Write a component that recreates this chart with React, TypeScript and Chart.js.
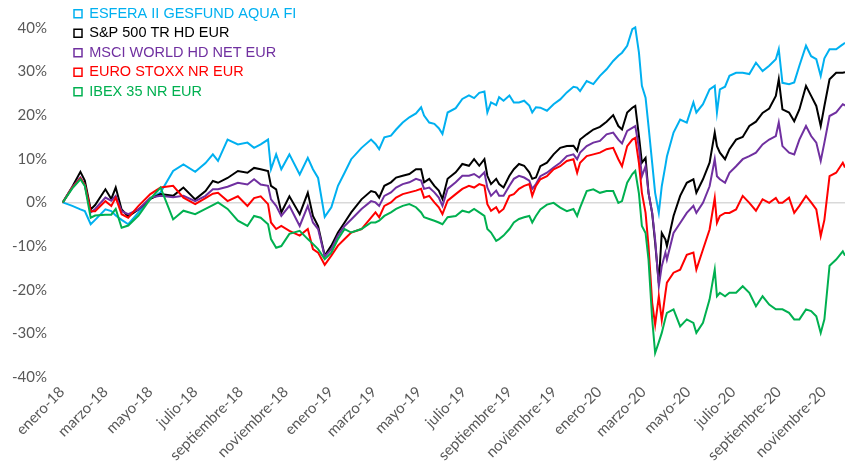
import { useEffect, useRef } from 'react';
import { Chart, registerables } from 'chart.js';

Chart.register(...registerables);

// ---- Data (percent return since start) ----
const dates = [
  // 2018 H1
  '2018-01-02', '2018-01-15', '2018-01-26', '2018-02-01', '2018-02-09', '2018-02-15',
  '2018-03-01', '2018-03-09', '2018-03-15', '2018-03-23', '2018-04-01', '2018-04-15',
  '2018-05-01', '2018-05-15', '2018-06-01', '2018-06-15', '2018-07-01', '2018-07-15',
  '2018-07-25',
  // 2018 H2 - early 2019
  '2018-08-01', '2018-08-14', '2018-08-28', '2018-09-10', '2018-09-19', '2018-09-28',
  '2018-10-08', '2018-10-12', '2018-10-19', '2018-10-26', '2018-11-06', '2018-11-20',
  '2018-12-01', '2018-12-08', '2018-12-15', '2018-12-24', '2019-01-02', '2019-01-11',
  '2019-01-20', '2019-01-29', '2019-02-12', '2019-02-25',
  // 2019 Mar - Oct
  '2019-03-03', '2019-03-08', '2019-03-15', '2019-03-24', '2019-03-31', '2019-04-09',
  '2019-04-18', '2019-04-27', '2019-05-04', '2019-05-08', '2019-05-15', '2019-05-22',
  '2019-05-28', '2019-06-02', '2019-06-09', '2019-06-20', '2019-06-29', '2019-07-08',
  '2019-07-15', '2019-07-22', '2019-07-29', '2019-08-02', '2019-08-07', '2019-08-14',
  '2019-08-18', '2019-08-24', '2019-09-01', '2019-09-07', '2019-09-14', '2019-09-21',
  '2019-09-28', '2019-10-02', '2019-10-07',
  // 2019 Oct - 2020 May
  '2019-10-13', '2019-10-22', '2019-10-31', '2019-11-09', '2019-11-18', '2019-11-27',
  '2019-12-02', '2019-12-06', '2019-12-15', '2019-12-24', '2020-01-02', '2020-01-11',
  '2020-01-20', '2020-01-27', '2020-02-01', '2020-02-08', '2020-02-15', '2020-02-19',
  '2020-02-24', '2020-02-28', '2020-03-04', '2020-03-08', '2020-03-13', '2020-03-17',
  '2020-03-22', '2020-03-26', '2020-03-31', '2020-04-02', '2020-04-11', '2020-04-20',
  '2020-04-29', '2020-05-08',
  // 2020 May - Nov
  '2020-05-12', '2020-05-21', '2020-05-30', '2020-06-06', '2020-06-09', '2020-06-13',
  '2020-06-20', '2020-06-26', '2020-07-05', '2020-07-14', '2020-07-23', '2020-08-01',
  '2020-08-10', '2020-08-19', '2020-08-28', '2020-09-01', '2020-09-06', '2020-09-15',
  '2020-09-22', '2020-09-29', '2020-10-08', '2020-10-15', '2020-10-22', '2020-10-28',
  '2020-11-02', '2020-11-09', '2020-11-18', '2020-11-27', '2020-11-30',
];

const esfera = [
  0, -0.8, -1.6, -2, -5, -4,
  -1.6, -2, -3, -4, -5, -2.3,
  0.8, 2.3, 7.2, 8.7, 7.0, 9.0,
  11.0,
  9.5, 14.4, 13.3, 13.7, 12.5, 13.3,
  14.4, 7.6, 11, 7.6, 11, 6.4,
  10.2, 7.6, 5.6, -3.3, -1.1, 3.8,
  6.8, 9.9, 12.5, 14.4,
  13.4, 12.2, 14.9, 15.3, 16.7, 18.3,
  19.5, 20.4, 21.8, 19.9, 18.3, 18.0,
  17.0, 15.7, 20.6, 21.6, 23.7, 24.5,
  23.9, 25.1, 25.4, 20.6, 22.9, 22.3,
  24.1, 23.3, 24.5, 22.9, 22.9, 23.3,
  22.2, 20.6, 21.8,
  21.7, 21.0, 22.5, 23.6, 25.2, 26.5,
  26.3, 25.5, 27.8, 27.1, 29.0, 30.5,
  32.4, 33.6, 34.3, 35.9, 39.7, 40.1,
  34.3, 26.7, 24.0, 17.5, 9.0, 2.2,
  -2.4, 3.7, 8.5, 10.5, 16.0, 19.0,
  18.3, 22.9,
  20.6, 22.5, 25.9, 26.7, 20.6, 25.9,
  26.5, 29.0, 29.7, 29.7, 29.4, 32.0,
  30.1, 31.3, 32.8, 35.1, 27.4, 27.1,
  27.5, 31.3, 35.9, 33.5, 32.8, 29.0,
  33.0, 35.1, 35.1, 36.2, 36.6,
];

const sp500 = [
  0, 3.6, 7, 5, -1.6, -0.6,
  3, 0.8, 3.4, -1.6, -3.2, -1.6,
  0.8, 1.9, 1.5, 3.4, 0.7, 2.6,
  4.9,
  4.5, 5.6, 7.2, 6.8, 7.9, 7.6,
  7.2, 3.8, 3.0, -2.3, 1.4, -2.7,
  2.2, -3.1, -5.4, -12.2, -9.9, -6.9,
  -4.6, -2.3, 0.7, 2.6,
  2.3, 1.1, 3.8, 4.6, 5.7, 6.1,
  6.5, 7.6, 7.6, 4.6, 5.4, 3.8,
  2.7, 0.8, 5.4, 6.9, 8.8, 8.4,
  9.9, 8.4, 9.9, 6.1, 4.2, 5.4,
  4.2, 3.4, 6.1, 7.6, 8.8, 8.4,
  6.9, 5.4, 5.7,
  8.3, 9.1, 11.0, 12.5, 12.9, 13.0,
  11.8, 14.4, 15.6, 16.7, 17.3, 18.5,
  20.0, 17.5, 16.7, 20.6, 21.7, 22.1,
  15.2, 9.1, 10.2, 2.2, -2.5, -9.2,
  -18.5, -7.0, -8.5, -10.0, -3.1, 1.5,
  4.5, 5.3,
  2.2, 5.3, 9.1, 16.0, 12.9, 11.4,
  9.9, 12.2, 14.4, 15.0, 17.5, 18.5,
  20.5, 21.5, 24.4, 28.2, 21.3, 20.6,
  18.6, 21.3, 26.7, 24.4, 22.1, 17.5,
  22.1, 28.2, 29.7, 29.7, 29.8,
];

const msci = [
  0, 3.5, 5.7, 4, -2.3, -1.5,
  1.1, 0.4, 1.5, -2, -2.7, -1.6,
  1.1, 1.5, 1.2, 1.5, 0.3, 1.5,
  3.0,
  3.0, 3.6, 4.5, 4.1, 5.3, 4.1,
  3.8, 0.7, -0.8, -3.1, -0.8, -5.4,
  -0.8, -4.6, -6.1, -12.4, -10.7, -7.6,
  -5.4, -3.9, -1.5, 0.3,
  0, -0.8, 1.5, 2.3, 3.4, 4.2,
  4.6, 5.4, 5.0, 3.1, 3.4, 2.3,
  1.1, -0.8, 3.1, 4.6, 6.1, 6.1,
  6.5, 5.7, 6.9, 3.4, 1.5, 2.7,
  1.5, 1.5, 3.8, 5.4, 6.1, 5.7,
  5.0, 3.1, 4.2,
  6.0, 6.8, 8.0, 9.1, 10.6, 11.0,
  9.9, 11.4, 12.9, 13.7, 14.1, 15.6,
  16.0, 14.4, 13.5, 16.4, 17.1, 17.5,
  12.5, 6.0, 8.3, 2.2, -2.4, -8.5,
  -19.2, -14.6, -11.5, -13.1, -7.0, -4.7,
  -2.4, -0.8,
  -2.4, -0.1, 3.7, 9.9, 6.0, 5.3,
  4.5, 6.8, 8.3, 9.9, 10.6, 11.4,
  13.3, 14.4, 15.2, 18.3, 12.9, 11.4,
  11.0, 14.4, 17.5, 15.2, 13.7, 9.5,
  13.7, 19.8, 20.6, 22.5, 22.2,
];

const stoxx = [
  0, 3.4, 5.5, 4, -2, -2,
  0.3, -0.8, 1.1, -2.7, -3.5, -0.8,
  1.9, 3.4, 3.8, 1.1, -0.4, 1.0,
  2.0,
  2.2, 0.3, 1.4, -0.8, 1.0, 1.4,
  -0.4, -4.6, -6.1, -5.4, -6.5, -7.6,
  -6.1, -10.7, -11.5, -14.3, -12.2, -9.9,
  -8.4, -6.9, -6.1, -3.5,
  -2.3, -3.4, -0.8, 0, 1.1, 1.9,
  2.3, 2.7, 3.1, 1.1, 1.5, 0,
  -1.1, -2.7, 0.4, 1.9, 3.1, 3.8,
  3.4, 4.2, 3.8, -0.4, -1.9, -1.1,
  -2.3, -1.5, 1.5, 1.9, 3.1, 3.8,
  4.2, 1.5, 3.8,
  5.3, 6.0, 7.6, 8.3, 9.5, 9.9,
  6.8, 9.1, 10.6, 11.0, 11.4, 12.2,
  12.5, 9.9, 8.3, 12.9, 14.4, 14.8,
  9.0, 2.2, -2.4, -10.0, -23.0, -28.0,
  -21.5, -27.0, -20.7, -18.4, -16.1, -15.4,
  -12.0, -11.5,
  -15.4, -10.8, -6.2, 1.0, -4.7, -3.1,
  -2.4, -2.4, -1.6, 1.5, -0.1, -1.9,
  0.7, -0.1, 1.0, -0.1, -0.1, 1.1,
  -2.4, -0.8, 1.5, 0.0, -1.6, -7.7,
  -4.0, 6.0, 6.8, 9.1, 8.0,
];

const ibex = [
  0, 3.2, 5.3, 3.8, -3.5, -3,
  -2.8, -2.8, -1.5, -5.8, -5.3, -3,
  0.8, 3.4, -3.9, -1.9, -2.7, -1.5,
  -0.6,
  0, -1.5, -4.2, -5.4, -3.1, -3.5,
  -5.0, -8.4, -10.4, -10.0, -7.2, -6.5,
  -8.4, -9.5, -10.7, -13.0, -11.5, -8.4,
  -6.1, -6.9, -6.1, -4.6,
  -4.6, -4.2, -3.1, -2.3, -1.5, -0.8,
  -0.4, -1.1, -2.3, -3.4, -3.8, -4.2,
  -4.6, -5.0, -3.4, -3.1, -1.9, -2.3,
  -1.5, -2.3, -3.1, -6.1, -6.9, -8.8,
  -8.4, -7.6, -6.1, -4.6, -3.8, -3.4,
  -3.1, -4.6, -3.1,
  -1.6, -0.5, -0.1, -1.2, -2.0, -1.5,
  -3.1, -1.2, 2.6, 3.0, 2.2, 2.6,
  2.6, -0.1, 0.3, 4.5, 6.5, 7.2,
  2.0, -5.4, -7.0, -13.1, -26.8, -34.5,
  -32.0, -29.9, -26.5, -25.3, -24.5, -28.4,
  -26.8, -27.6,
  -29.9, -27.6, -22.2, -15.4, -21.5, -20.7,
  -21.5, -20.7, -20.7, -19.2, -20.7, -23.8,
  -21.5, -23.4, -24.5, -24.5, -24.5, -25.3,
  -26.8, -26.8, -24.5, -24.9, -26.1, -29.9,
  -26.8, -14.5, -13.1, -11.2, -12.2,
];

const seriesNames = [
  'ESFERA II GESFUND AQUA FI',
  'S&P 500 TR HD EUR',
  'MSCI WORLD HD NET EUR',
  'EURO STOXX NR EUR',
  'IBEX 35 NR EUR',
];
const seriesColors = ['#00B0F0', '#000000', '#7030A0', '#FF0000', '#00B050'];

const tickDates = [
  '2018-01-01', '2018-03-01', '2018-05-01', '2018-07-01', '2018-09-01', '2018-11-01',
  '2019-01-01', '2019-03-01', '2019-05-01', '2019-07-01', '2019-09-01', '2019-11-01',
  '2020-01-01', '2020-03-01', '2020-05-01', '2020-07-01', '2020-09-01', '2020-11-01',
];
const tickLabels = [
  'enero-18', 'marzo-18', 'mayo-18', 'julio-18', 'septiembre-18', 'noviembre-18',
  'enero-19', 'marzo-19', 'mayo-19', 'julio-19', 'septiembre-19', 'noviembre-19',
  'enero-20', 'marzo-20', 'mayo-20', 'julio-20', 'septiembre-20', 'noviembre-20',
];
const axisStart = '2018-01-01';
const axisEnd = '2020-11-30';

const BASE = Date.UTC(2018, 0, 1);
function dayOf(s: string): number {
  const [y, m, d] = s.split('-').map(Number);
  return Math.round((Date.UTC(y, m - 1, d) - BASE) / 86400000);
}

const legendShift = {
  id: 'legendShift',
  afterLayout(chart: any) {
    const l = chart.legend;
    if (l) {
      l.left += 7;
      l.top = 1.5;
    }
  },
};

export default function App() {
  const ref = useRef<HTMLCanvasElement | null>(null);

  useEffect(() => {
    if (!ref.current) return;
    const allSeries = [esfera, sp500, msci, stoxx, ibex];
    const xs = dates.map(dayOf);
    const tickDays = tickDates.map(dayOf);
    const labelMap: Record<number, string> = {};
    tickDays.forEach((d, i) => (labelMap[d] = tickLabels[i]));

    const chart = new Chart(ref.current, {
      type: 'line',
      data: {
        datasets: allSeries.map((vals, i) => ({
          label: seriesNames[i],
          data: vals.map((v, j) => ({ x: xs[j], y: v })),
          borderColor: seriesColors[i],
          backgroundColor: 'rgba(0,0,0,0)',
          borderWidth: 2,
          pointRadius: 0,
          tension: 0,
          order: allSeries.length - i,
        })),
      },
      options: {
        responsive: false,
        animation: false,
        layout: { padding: { top: 6, right: 5, bottom: 0, left: 0 } },
        plugins: {
          tooltip: { enabled: false },
          legend: {
            position: 'chartArea' as any,
            align: 'start',
            labels: {
              boxWidth: 8,
              boxHeight: 8,
              padding: 5,
              font: { family: '"Liberation Sans", Arial, sans-serif', size: 14.5 },
              generateLabels: (chart: any) => {
                const items = Chart.defaults.plugins.legend.labels.generateLabels(chart);
                items.sort((a: any, b: any) => a.datasetIndex - b.datasetIndex);
                return items.map((it: any) => ({
                  ...it,
                  fillStyle: 'rgba(255,255,255,0)',
                  strokeStyle: seriesColors[it.datasetIndex],
                  fontColor: seriesColors[it.datasetIndex],
                  lineWidth: 1.5,
                }));
              },
            },
          },
        },
        scales: {
          x: {
            type: 'linear',
            min: dayOf(axisStart),
            max: dayOf(axisEnd),
            grid: { display: false, drawTicks: false },
            border: { display: false },
            afterBuildTicks: (scale: any) => {
              scale.ticks = tickDays.map((v) => ({ value: v }));
            },
            afterFit: (scale: any) => {
              scale.height = 96;
              scale.paddingLeft = 0;
              scale.paddingRight = 0;
            },
            ticks: {
              autoSkip: false,
              minRotation: 45,
              maxRotation: 45,
              padding: 6,
              color: '#595959',
              font: { family: 'Lato, "Open Sans", sans-serif', size: 15 },
              callback: (v: any) => labelMap[v as number] ?? '',
            },
          },
          y: {
            min: -40,
            max: 45,
            grid: {
              drawTicks: false,
              lineWidth: 1.5,
              color: (ctx: any) => (ctx.tick && ctx.tick.value === 0 ? '#d9d9d9' : 'rgba(0,0,0,0)'),
            },
            border: { display: false },
            afterFit: (scale: any) => {
              scale.width = 62;
              scale.paddingTop = 0;
              scale.paddingBottom = 0;
            },
            ticks: {
              stepSize: 10,
              includeBounds: false,
              padding: 15,
              color: '#595959',
              font: { family: 'Lato, "Open Sans", sans-serif', size: 15 },
              callback: (v: any) => `${v}%`,
            },
          },
        },
      },
      plugins: [legendShift],
    });

    return () => chart.destroy();
  }, []);

  return (
    <div style={{ position: 'absolute', left: 0, top: 0, width: 850, height: 473, background: '#fff' }}>
      <canvas ref={ref} width={850} height={473} style={{ display: 'block' }} />
    </div>
  );
}
